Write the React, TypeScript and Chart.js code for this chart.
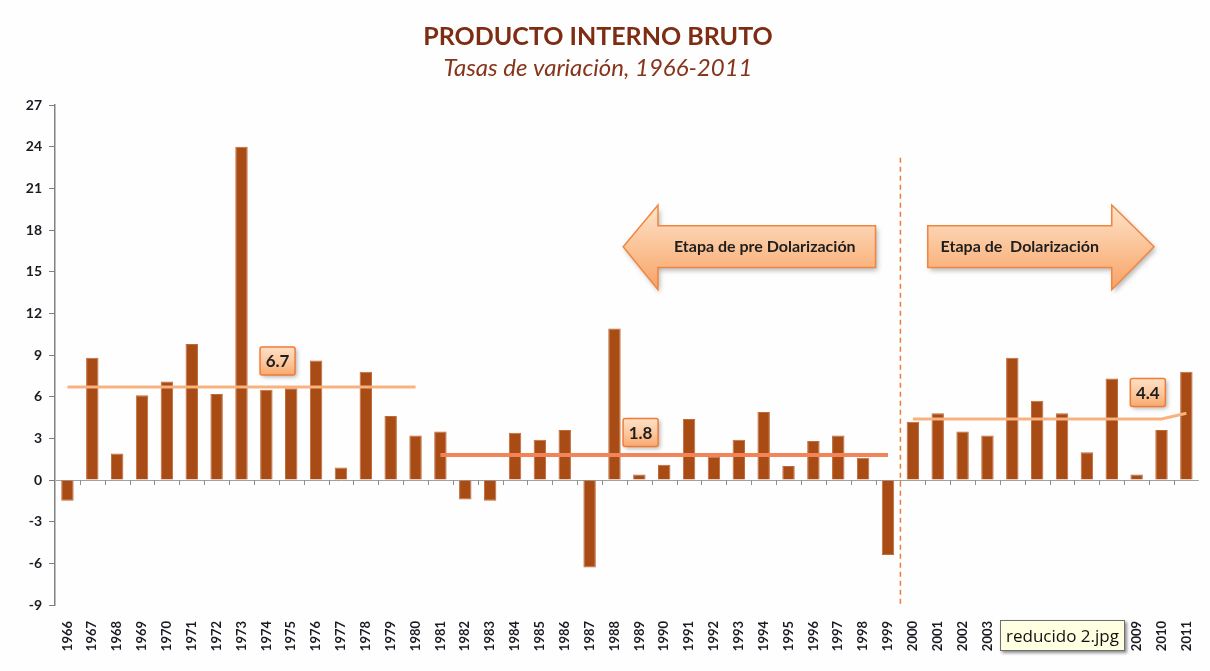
import React, { useEffect, useRef } from "react";
import { Chart, registerables } from "chart.js";

Chart.register(...registerables);

const years = [
  "1966", "1967", "1968", "1969", "1970", "1971", "1972", "1973", "1974", "1975",
  "1976", "1977", "1978", "1979", "1980", "1981", "1982", "1983", "1984", "1985",
  "1986", "1987", "1988", "1989", "1990", "1991", "1992", "1993", "1994", "1995",
  "1996", "1997", "1998", "1999", "2000", "2001", "2002", "2003", "2004", "2005",
  "2006", "2007", "2008", "2009", "2010", "2011",
];

const growth = [
  -1.5, 8.8, 1.9, 6.1, 7.1, 9.8, 6.2, 24.0, 6.5, 6.6,
  8.6, 0.9, 7.8, 4.6, 3.2, 3.5, -1.4, -1.5, 3.4, 2.9,
  3.6, -6.3, 10.9, 0.4, 1.1, 4.4, 1.7, 2.9, 4.9, 1.0,
  2.8, 3.2, 1.6, -5.4, 4.2, 4.8, 3.5, 3.2, 8.8, 5.7,
  4.8, 2.0, 7.3, 0.4, 3.6, 7.8,
];

const N = null;
const avgPre1 = [
  6.7, 6.7, 6.7, 6.7, 6.7, 6.7, 6.7, 6.7, 6.7, 6.7,
  6.7, 6.7, 6.7, 6.7, 6.7, N, N, N, N, N,
  N, N, N, N, N, N, N, N, N, N,
  N, N, N, N, N, N, N, N, N, N,
  N, N, N, N, N, N,
];
const avgPre2 = [
  N, N, N, N, N, N, N, N, N, N,
  N, N, N, N, N, 1.8, 1.8, 1.8, 1.8, 1.8,
  1.8, 1.8, 1.8, 1.8, 1.8, 1.8, 1.8, 1.8, 1.8, 1.8,
  1.8, 1.8, 1.8, 1.8, N, N, N, N, N, N,
  N, N, N, N, N, N,
];
const avgDol = [
  N, N, N, N, N, N, N, N, N, N,
  N, N, N, N, N, N, N, N, N, N,
  N, N, N, N, N, N, N, N, N, N,
  N, N, N, N, 4.4, 4.4, 4.4, 4.4, 4.4, 4.4,
  4.4, 4.4, 4.4, 4.4, 4.4, 4.8,
];

const avgLabels = ["6.7", "1.8", "4.4"];
const yTicksMin = -9;
const yTicksMax = 27;
const yStep = 3;

const titleText = "PRODUCTO INTERNO BRUTO";
const subtitleText = "Tasas de variación, 1966-2011";
const arrowTexts = ["Etapa de pre Dolarización", "Etapa de  Dolarización"];

const FONT = "Lato, 'Open Sans', sans-serif";

function roundRect(ctx: CanvasRenderingContext2D, x: number, y: number, w: number, h: number, r: number) {
  ctx.beginPath();
  ctx.moveTo(x + r, y);
  ctx.lineTo(x + w - r, y);
  ctx.quadraticCurveTo(x + w, y, x + w, y + r);
  ctx.lineTo(x + w, y + h - r);
  ctx.quadraticCurveTo(x + w, y + h, x + w - r, y + h);
  ctx.lineTo(x + r, y + h);
  ctx.quadraticCurveTo(x, y + h, x, y + h - r);
  ctx.lineTo(x, y + r);
  ctx.quadraticCurveTo(x, y, x + r, y);
  ctx.closePath();
}

const overlayPlugin = {
  id: "overlay",
  beforeDatasetsDraw(chart: any) {
    const ctx: CanvasRenderingContext2D = chart.ctx;
    const xs = chart.scales.x;
    const ys = chart.scales.y;
    const y0 = ys.getPixelForValue(0);
    ctx.save();
    ctx.strokeStyle = "#909090";
    ctx.lineWidth = 1;
    ctx.beginPath();
    for (let i = 1; i < years.length; i++) {
      const bx = Math.round((xs.getPixelForValue(i - 1) + xs.getPixelForValue(i)) / 2) + 0.5;
      ctx.moveTo(bx, y0);
      ctx.lineTo(bx, y0 + 5);
    }
    ctx.stroke();
    ctx.restore();
  },
  afterDatasetsDraw(chart: any) {
    const ctx: CanvasRenderingContext2D = chart.ctx;
    const xs = chart.scales.x;
    const ys = chart.scales.y;
    const px = (v: number) => xs.getPixelForValue(v);
    const py = (v: number) => ys.getPixelForValue(v);

    // dashed separator between 1999 and 2000
    ctx.save();
    ctx.strokeStyle = "#F07A3A";
    ctx.lineWidth = 1.5;
    ctx.setLineDash([5, 4]);
    const sx = (px(33) + px(34)) / 2;
    ctx.beginPath();
    ctx.moveTo(sx, py(23.2));
    ctx.lineTo(sx, py(-9));
    ctx.stroke();
    ctx.restore();

    // arrows
    const drawArrow = (pts: [number, number][], text: string, cx: number, cy: number) => {
      ctx.save();
      const ys2 = pts.map((p) => p[1]);
      const top = Math.min(...ys2);
      const bot = Math.max(...ys2);
      const g = ctx.createLinearGradient(0, top, 0, bot);
      g.addColorStop(0, "#FEE3CB");
      g.addColorStop(0.5, "#FBC397");
      g.addColorStop(1, "#F8A266");
      ctx.shadowColor = "rgba(0,0,0,0.28)";
      ctx.shadowBlur = 5;
      ctx.shadowOffsetX = 2;
      ctx.shadowOffsetY = 3;
      ctx.beginPath();
      pts.forEach((p, i) => (i === 0 ? ctx.moveTo(p[0], p[1]) : ctx.lineTo(p[0], p[1])));
      ctx.closePath();
      ctx.fillStyle = g;
      ctx.fill();
      ctx.shadowColor = "transparent";
      ctx.strokeStyle = "#F0863F";
      ctx.lineWidth = 1.5;
      ctx.stroke();
      ctx.fillStyle = "#1E1E1E";
      ctx.font = `bold 16px ${FONT}`;
      ctx.textAlign = "center";
      ctx.textBaseline = "middle";
      ctx.fillText(text, cx, cy);
      ctx.restore();
    };

    const hTop = py(19.8), bTop = py(18.3), mid = py(16.8), bBot = py(15.3), hBot = py(13.7);
    {
      const tip = px(22.35), base = px(23.75), tail = px(32.5);
      drawArrow(
        [[tip, mid], [base, hTop], [base, bTop], [tail, bTop], [tail, bBot], [base, bBot], [base, hBot]],
        arrowTexts[0],
        (base + tail) / 2 - 2,
        mid
      );
    }
    {
      const tail = px(34.6), base = px(42.0), tip = px(43.7);
      drawArrow(
        [[tail, bTop], [base, bTop], [base, hTop], [tip, mid], [base, hBot], [base, bBot], [tail, bBot]],
        arrowTexts[1],
        (tail + base) / 2,
        mid
      );
    }

    // average labels
    const drawLabel = (text: string, cat: number, val: number) => {
      const cx = px(cat), cy = py(val);
      const w = 35, h = 28;
      const x = cx - w / 2, y = cy - h / 2;
      ctx.save();
      const g = ctx.createLinearGradient(0, y, 0, y + h);
      g.addColorStop(0, "#FEE0C6");
      g.addColorStop(0.5, "#FCC9A0");
      g.addColorStop(1, "#F9A96E");
      ctx.shadowColor = "rgba(0,0,0,0.3)";
      ctx.shadowBlur = 4;
      ctx.shadowOffsetX = 2;
      ctx.shadowOffsetY = 2;
      roundRect(ctx, x, y, w, h, 2);
      ctx.fillStyle = g;
      ctx.fill();
      ctx.shadowColor = "transparent";
      ctx.strokeStyle = "#F07C38";
      ctx.lineWidth = 1.5;
      ctx.stroke();
      ctx.fillStyle = "#1E1E1E";
      ctx.font = `bold 17px ${FONT}`;
      ctx.textAlign = "center";
      ctx.textBaseline = "middle";
      ctx.fillText(text, cx, cy + 1);
      ctx.restore();
    };
    drawLabel(avgLabels[0], 8.45, 8.57);
    drawLabel(avgLabels[1], 23.05, 3.42);
    drawLabel(avgLabels[2], 43.45, 6.3);
  },
  afterDraw(chart: any) {
    const ctx: CanvasRenderingContext2D = chart.ctx;
    ctx.save();
    ctx.textAlign = "center";
    ctx.textBaseline = "middle";
    ctx.fillStyle = "#7E2C12";
    ctx.font = `bold 25px ${FONT}`;
    ctx.fillText(titleText, 598, 37);
    ctx.fillStyle = "#86351A";
    ctx.font = `italic 24px ${FONT}`;
    ctx.fillText(subtitleText, 598, 68);
    ctx.restore();
  },
};

export default function App() {
  const canvasRef = useRef<HTMLCanvasElement | null>(null);

  useEffect(() => {
    if (!canvasRef.current) return;
    const lineDs = (data: (number | null)[], color: string, width: number) => ({
      type: "line" as const,
      data,
      borderColor: color,
      borderWidth: width,
      pointRadius: 0,
      pointHoverRadius: 0,
      fill: false,
      tension: 0,
      spanGaps: false,
      order: 1,
    });
    const chart = new Chart(canvasRef.current, {
      type: "bar",
      data: {
        labels: years,
        datasets: [
          {
            type: "bar",
            data: growth,
            backgroundColor: "#A84B14",
            borderColor: "#C06A35",
            borderWidth: 1,
            barPercentage: 0.5,
            categoryPercentage: 1,
            order: 2,
          } as any,
          lineDs(avgPre1, "#F8B27F", 3),
          lineDs(avgPre2, "#F2845A", 4),
          lineDs(avgDol, "#F8B27F", 3),
        ],
      },
      options: {
        animation: false,
        responsive: true,
        maintainAspectRatio: false,
        layout: { padding: { top: 105, left: 0, right: 3, bottom: 0 } },
        plugins: {
          legend: { display: false },
          tooltip: { enabled: false },
          title: { display: false },
        },
        scales: {
          x: {
            grid: { display: false },
            border: { display: false },
            ticks: {
              autoSkip: false,
              minRotation: 90,
              maxRotation: 90,
              color: "#1A1A22",
              padding: 8,
              font: { family: FONT, size: 13, weight: "bold" },
            },
            afterFit: (s: any) => {
              s.height = 66;
            },
          },
          y: {
            min: yTicksMin,
            max: yTicksMax,
            ticks: {
              stepSize: yStep,
              color: "#1A1A22",
              padding: 7,
              font: { family: FONT, size: 14, weight: "bold" },
            },
            grid: {
              color: (c: any) => (c.tick && c.tick.value === 0 ? "#A0A0A0" : "rgba(0,0,0,0)"),
              tickColor: "#808080",
              tickLength: 6,
              lineWidth: 1,
            },
            border: { color: "#808080", width: 1.5 },
            afterFit: (s: any) => {
              s.width = 55;
            },
          },
        },
      },
      plugins: [overlayPlugin],
    } as any);
    return () => chart.destroy();
  }, []);

  return (
    <div style={{ position: "fixed", left: 0, top: 0, width: 1210, height: 671, background: "#FEFEFE" }}>
      <canvas ref={canvasRef} />
      <div
        style={{
          position: "absolute",
          left: 1000,
          top: 620,
          width: 125,
          height: 31,
          boxSizing: "border-box",
          lineHeight: "29px",
          textAlign: "center",
          background: "#FFFFE1",
          border: "1px solid #6E6E6E",
          boxShadow: "2px 2px 3px rgba(0,0,0,0.45)",
          fontFamily: "'Open Sans', sans-serif",
          fontSize: 17,
          color: "#111",
          whiteSpace: "nowrap",
        }}
      >
        reducido 2.jpg
      </div>
    </div>
  );
}
